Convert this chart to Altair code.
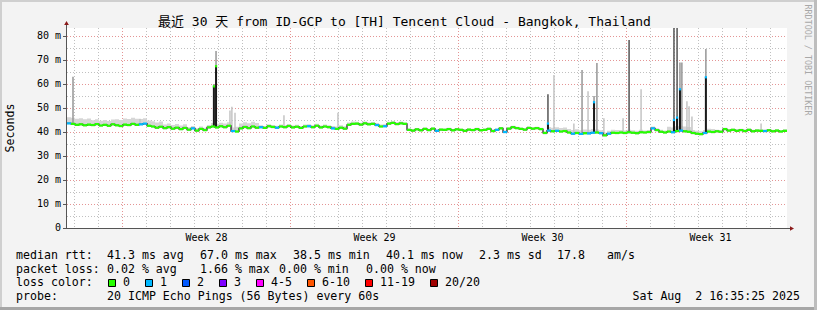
import altair as alt
import pandas as pd

# ---------------- data ----------------
# median RTT (ms), 4-hour steps, 30 days (6 values per day)
median_ms = [
    43.6, 43.4, 43.0, 43.2, 42.8, 43.1,
    42.9, 43.3, 42.7, 43.0, 42.6, 43.2,
    42.8, 42.5, 43.1, 42.9, 43.4, 43.0,
    43.2, 43.5, 42.6, 42.3, 41.8, 42.2,
    41.6, 42.0, 41.4, 41.8, 41.2, 41.7,
    41.0, 41.5, 40.6, 41.3, 40.8, 41.9,
    42.3, 41.9, 42.4, 42.0, 42.6, 40.4,
    40.2, 41.5, 42.1, 41.6, 42.3, 41.8,
    42.0, 41.7, 42.4, 42.1, 41.8, 42.3,
    42.0, 42.5, 41.9, 42.2, 41.7, 42.3,
    42.4, 42.0, 42.6, 41.9, 42.3, 42.0,
    41.5, 41.3, 41.8, 41.4, 43.0, 43.4,
    43.5, 43.1, 43.6, 43.2, 43.4, 42.9,
    42.3, 42.4, 43.5, 43.8, 43.3, 43.6,
    43.4, 40.9, 40.6, 41.1, 40.7, 41.3,
    40.8, 41.4, 40.5, 41.0, 40.9, 41.2,
    40.7, 41.1, 40.9, 40.5, 41.0, 40.8,
    41.2, 40.7, 40.9, 41.3, 40.4, 40.9,
    41.5, 40.0, 41.4, 42.0, 41.6, 41.3,
    41.0, 41.7, 41.4, 41.6, 41.2, 39.6,
    40.6, 40.3, 40.5, 40.2, 40.4, 39.8,
    39.3, 39.6, 39.2, 39.5, 39.4, 39.7,
    39.8, 39.5, 38.6, 39.3, 39.7, 39.6,
    39.8, 39.6, 39.9, 39.7, 39.5, 39.9,
    39.8, 40.0, 41.5, 40.8, 40.1, 39.8,
    40.2, 39.9, 40.4, 40.6, 40.3, 40.1,
    39.6, 39.3, 39.1, 39.6, 40.2, 40.0,
    40.3, 40.1, 41.2, 40.6, 40.9, 40.5,
    40.8, 40.4, 40.9, 40.3, 40.6, 40.5,
    40.4, 40.7, 40.3, 40.6, 40.2, 40.5,
]
# steps in which 1 of 20 pings was lost
loss1_idx = [0, 18, 19, 31, 41, 48, 52, 60, 66, 77, 79, 92, 107, 109, 120, 122,
             126, 128, 130, 131, 133, 135, 146, 151, 153, 159, 174]
# smoke extent above the median, per day (ms)
smoke_up = [2.5, 2.0, 2.5, 2.2, 1.5, 1.0, 1.5, 2.0, 0.8, 0.8, 0.8, 1.0, 0.8, 0.8, 0.6,
            0.6, 0.6, 0.6, 0.6, 0.6, 1.5, 1.5, 1.2, 1.0, 0.8, 2.0, 1.2, 0.6, 0.6, 0.6]
# spikes: day offset, top of smoke (ms), median peak (0 = none), loss at peak, smoke density
spike_day = [0.25, 3.04, 6.12, 6.21, 6.79, 6.87, 7.0, 9.04, 11.29, 20.04, 20.29, 21.12,
             21.46, 21.71, 21.96, 22.08, 22.37, 23.17, 23.42, 23.92, 25.29, 25.42, 25.54,
             25.62, 25.83, 25.92, 26.04, 26.62, 28.92]
spike_top = [63, 45.5, 60, 73.7, 49, 50.5, 48, 47, 48, 55.7, 63.7, 43.5, 65.8, 57, 55,
             68.7, 45.7, 45.7, 78.3, 57.8, 95, 95, 69, 69, 52.8, 50.7, 46.5, 74.6, 43.5]
spike_peak = [0, 0, 59, 67.4, 0, 0, 0, 0, 0, 43.5, 0, 0, 0, 0, 52.4, 0, 0, 0, 0, 0,
              45, 46, 57.8, 0, 0, 0, 0, 62.8, 0]
spike_loss = [0, 0, 0, 0, 0, 0, 0, 0, 0, 1, 0, 0, 0, 0, 1, 0, 0, 0, 0, 0, 1, 1, 1, 0,
              0, 0, 0, 1, 0]
spike_density = [2, 1, 2, 2, 1, 1, 1, 1, 1, 3, 1, 1, 2, 1, 2, 2, 1, 1, 3, 1, 3, 3, 2, 2,
                 1, 1, 1, 2, 1]

week_names = ["Week 28", "Week 29", "Week 30", "Week 31"]
first_monday = 2.3125        # days after window start
n_days = 30
y_ticks = [0, 10, 20, 30, 40, 50, 60, 70, 80]
y_labels = ["0\u00a0\u00a0", "10 m", "20 m", "30 m", "40 m", "50 m", "60 m", "70 m", "80 m"]
y_top = 83.33

title_text = "最近 30 天 from ID-GCP to [TH] Tencent Cloud - Bangkok, Thailand"
rtt_stats = [41.3, 67.0, 38.5, 40.1, 2.3]
am_s = 17.8
loss_stats = [0.02, 1.66, 0.00, 0.00]
loss_labels = ["0", "1", "2", "3", "4-5", "6-10", "11-19", "20/20"]
loss_counts = [0, 1, 2, 3, 5, 10, 19, 20]
probe_text = "20 ICMP Echo Pings (56 Bytes) every 60s"
stamp_text = "Sat Aug\u00a0\u00a02 16:35:25 2025"

# ---------------- styling ----------------
FONT = "DejaVu Sans Mono, Noto Sans CJK SC"
W, H = 720, 200
LEFT, TOP = 67, 28
loss_palette = ["#26ff00", "#00b8ff", "#0059ff", "#7e00ff", "#ff00ff", "#ff5500",
                "#ff0000", "#a00000"]
xs = alt.Scale(domain=[0, n_days], nice=False, zero=False)
ys = alt.Scale(domain=[0, y_top], nice=False, zero=False)
lossc = alt.Scale(domain=loss_counts, range=loss_palette)

n = len(median_ms)
step = n_days / n
t = [i * step for i in range(n)]
loss = [1 if i in loss1_idx else 0 for i in range(n)]
df = pd.DataFrame({"t": t, "t2": [v + step for v in t], "med": median_ms, "loss": loss})
ext = pd.concat([df, pd.DataFrame({"t": [n_days], "t2": [n_days], "med": [median_ms[-1]], "loss": [0]})],
                ignore_index=True)
ext["lo"] = ext["med"] - 0.5
ext["hi"] = [m + smoke_up[min(int(x), n_days - 1)] for m, x in zip(ext["med"], ext["t"])]

sp = pd.DataFrame({"d": spike_day, "top": spike_top, "peak": spike_peak,
                   "loss": spike_loss, "dens": spike_density})
sp["base"] = [median_ms[min(int(d / step), n - 1)] for d in spike_day]
cores = sp[sp["peak"] > 0]

one = pd.DataFrame({"a": [0]})

# ---------------- layers ----------------
dot = [1, 2]
grid_gray = "#c0c0c0"
grid_red = "#e49494"

minor_v = pd.DataFrame({"d": [first_monday - 2 + k for k in range(n_days) if (k - 2) % 7 != 0]})
major_v = pd.DataFrame({"d": [first_monday + 7 * k for k in range(4)]})
minor_h = pd.DataFrame({"v": [5 + 10 * k for k in range(8)]})
major_h = pd.DataFrame({"v": y_ticks[1:]})
ylab = pd.DataFrame({"v": y_ticks, "lab": y_labels})

g_minor_v = alt.Chart(minor_v).mark_rule(color=grid_gray, strokeDash=dot, strokeWidth=1, xOffset=0).encode(
    x=alt.X("d:Q", scale=xs, axis=None), y=alt.value(0), y2=alt.value(H))
g_major_v = alt.Chart(major_v).mark_rule(color=grid_red, strokeDash=dot, strokeWidth=1).encode(
    x=alt.X("d:Q", scale=xs, axis=None), y=alt.value(0), y2=alt.value(H))
g_minor_h = alt.Chart(minor_h).mark_rule(color=grid_gray, strokeDash=dot, strokeWidth=1, yOffset=0.5).encode(
    y=alt.Y("v:Q", scale=ys, axis=None), x=alt.value(0), x2=alt.value(W))
g_major_h = alt.Chart(major_h).mark_rule(color=grid_red, strokeDash=dot, strokeWidth=1, yOffset=0.5).encode(
    y=alt.Y("v:Q", scale=ys, axis=None), x=alt.value(0), x2=alt.value(W))

y_tick_marks = alt.Chart(ylab).mark_rule(color="#555555", strokeWidth=1, yOffset=0.5).encode(
    y=alt.Y("v:Q", scale=ys, axis=None), x=alt.value(-4), x2=alt.value(0))
y_tick_text = alt.Chart(ylab).mark_text(font=FONT, fontSize=10, color="#000000", align="right",
                                        baseline="middle").encode(
    y=alt.Y("v:Q", scale=ys, axis=None), x=alt.value(-6), text="lab:N")

smoke = alt.Chart(ext).mark_area(interpolate="step-after", color="#d6d6d6").encode(
    x=alt.X("t:Q", scale=xs, axis=None), y=alt.Y("lo:Q", scale=ys, axis=None), y2="hi:Q")

dens_scale = alt.Scale(domain=[1, 2, 3], range=["#c4c4c4", "#969696", "#555555"])
spikes = alt.Chart(sp).mark_rule(strokeWidth=1.5, clip=True).encode(
    x=alt.X("d:Q", scale=xs, axis=None), y=alt.Y("base:Q", scale=ys, axis=None), y2="top:Q",
    color=alt.Color("dens:O", scale=dens_scale, legend=None))
core_rules = alt.Chart(cores).mark_rule(strokeWidth=2, color="#1a1a1a").encode(
    x=alt.X("d:Q", scale=xs, axis=None), y=alt.Y("base:Q", scale=ys, axis=None), y2="peak:Q")

black_line = alt.Chart(ext).mark_line(interpolate="step-after", color="#1a1a1a", strokeWidth=1.2).encode(
    x=alt.X("t:Q", scale=xs, axis=None), y=alt.Y("med:Q", scale=ys, axis=None))
green = alt.Chart(df).mark_rule(strokeWidth=2.2).encode(
    x=alt.X("t:Q", scale=xs, axis=None), x2="t2:Q", y=alt.Y("med:Q", scale=ys, axis=None),
    color=alt.Color("loss:O", scale=lossc, legend=None))
core_dots = alt.Chart(cores).mark_square(size=5, opacity=1).encode(
    x=alt.X("d:Q", scale=xs, axis=None), y=alt.Y("peak:Q", scale=ys, axis=None),
    color=alt.Color("loss:O", scale=lossc, legend=None))

# axes lines and arrows
axis_col = "#555555"
arrow_col = "#8b1a1a"
y_axis_line = alt.Chart(one).mark_rule(color=axis_col, strokeWidth=1).encode(
    x=alt.value(-0.5), y=alt.value(-5), y2=alt.value(H + 0.5))
x_axis_line = alt.Chart(one).mark_rule(color=axis_col, strokeWidth=1).encode(
    x=alt.value(-0.5), x2=alt.value(W + 4), y=alt.value(H + 0.5))
y_arrow = alt.Chart(one).mark_point(shape="triangle-up", filled=True, color=arrow_col, size=22, opacity=1).encode(
    x=alt.value(-0.5), y=alt.value(-5))
x_arrow = alt.Chart(one).mark_point(shape="triangle-right", filled=True, color=arrow_col, size=22, opacity=1).encode(
    x=alt.value(W + 5), y=alt.value(H + 0.5))

weeks = pd.DataFrame({"d": [first_monday + 3.5 + 7 * k for k in range(4)], "lab": week_names})
week_text = alt.Chart(weeks).mark_text(font=FONT, fontSize=10, color="#000000", baseline="alphabetic",
                                       align="center").encode(
    x=alt.X("d:Q", scale=xs, axis=None), y=alt.value(241 - TOP), text="lab:N")


# ---------------- text block (absolute page positions) ----------------
def fmt(v, d=1):
    return f"{v:.{d}f}"


items = [
    (16, 258.5, "median rtt:", "left"),
    (107, 258.5, f"{fmt(rtt_stats[0])} ms avg", "left"),
    (200, 258.5, f"{fmt(rtt_stats[1])} ms max", "left"),
    (293, 258.5, f"{fmt(rtt_stats[2])} ms min", "left"),
    (386, 258.5, f"{fmt(rtt_stats[3])} ms now", "left"),
    (479, 258.5, f"{fmt(rtt_stats[4])} ms sd", "left"),
    (557, 258.5, fmt(am_s), "left"),
    (607, 258.5, "am/s", "left"),
    (16, 272.5, "packet loss:", "left"),
    (107, 272.5, f"{fmt(loss_stats[0], 2)} % avg", "left"),
    (200, 272.5, f"{fmt(loss_stats[1], 2)} % max", "left"),
    (279, 272.5, f"{fmt(loss_stats[2], 2)} % min", "left"),
    (366, 272.5, f"{fmt(loss_stats[3], 2)} % now", "left"),
    (16, 286, "loss color:", "left"),
    (16, 300, "probe:", "left"),
    (107, 300, probe_text, "left"),
    (800, 300, stamp_text, "right"),
]
squares = []
cx = 108
for lab, col in zip(loss_labels, loss_palette):
    squares.append(alt.Chart(one).mark_rect(color=col, stroke="#000000", strokeWidth=1).encode(
        x=alt.value(cx - LEFT + 0.5), x2=alt.value(cx - LEFT + 7.5),
        y=alt.value(279.5 - TOP), y2=alt.value(286.5 - TOP)))
    items.append((cx + 15, 286, lab, "left"))
    cx += 30 + 7 * len(lab)

text_layers = [
    alt.Chart(one).mark_text(font=FONT, fontSize=11.6, color="#000000", baseline="alphabetic",
                             align=a, text=s).encode(x=alt.value(x - LEFT), y=alt.value(y - TOP))
    for x, y, s, a in items
]

title = alt.Chart(one).mark_text(font=FONT, fontSize=13, color="#000000", baseline="alphabetic",
                                 align="left", text=title_text).encode(
    x=alt.value(158 - LEFT), y=alt.value(26 - TOP))
ytitle = alt.Chart(one).mark_text(font=FONT, fontSize=11.6, color="#000000", baseline="middle",
                                  align="center", angle=270, text="Seconds").encode(
    x=alt.value(11 - LEFT), y=alt.value(128 - TOP))
side = alt.Chart(one).mark_text(font=FONT, fontSize=8.4, color="#a8a8a8", baseline="middle",
                                align="center", angle=90, text="RRDTOOL / TOBI OETIKER").encode(
    x=alt.value(808 - LEFT), y=alt.value(60 - TOP))


def band(x0, x1, y0, y1, col):
    return alt.Chart(one).mark_rect(color=col).encode(
        x=alt.value(x0 - LEFT), x2=alt.value(x1 - LEFT), y=alt.value(y0 - TOP), y2=alt.value(y1 - TOP))


frame = [band(0, 817, 0, 2, "#cfcfcf"), band(0, 2, 0, 310, "#cfcfcf"),
         band(0, 817, 307, 310, "#a6a6a6"), band(814, 817, 0, 310, "#bdbdbd")]

chart = alt.layer(
    g_minor_v, g_minor_h, g_major_v, g_major_h,
    smoke, spikes, core_rules, black_line, green, core_dots,
    y_axis_line, x_axis_line, y_arrow, x_arrow, y_tick_marks, y_tick_text, week_text,
    *text_layers, *squares, title, ytitle, side, *frame,
).resolve_scale(color="independent").properties(
    width=W, height=H,
    autosize=alt.AutoSizeParams(type="none"),
    padding={"left": LEFT, "top": TOP, "right": 817 - LEFT - W, "bottom": 310 - TOP - H},
    background="#f3f3f3",
).configure_view(stroke=None, fill="#ffffff")

chart.save("out.html", embed_options={"renderer": "svg", "actions": False})
